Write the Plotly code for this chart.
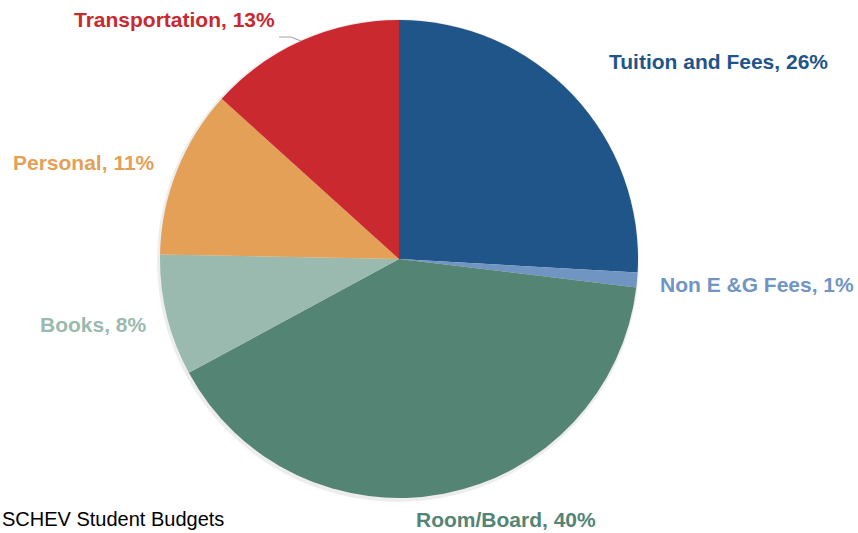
import plotly.graph_objects as go

# Data
categories = ["Tuition and Fees", "Non E &G Fees", "Room/Board", "Books", "Personal", "Transportation"]
shares = [25.9, 1.0, 40.2, 8.2, 11.4, 13.3]
colors = ["#1F5589", "#7195C3", "#548474", "#9BBAAF", "#E4A056", "#C9292F"]
source_note = "SCHEV Student Budgets"

W, H = 858, 533
# label anchor positions in pixels (x center, y center)
label_pos = [(718, 62), (757, 284), (506, 519), (93, 324), (84, 163), (174, 19)]

total = sum(shares)
pcts = [round(v / total * 100) for v in shares]

fig = go.Figure()
fig.add_trace(go.Pie(
    labels=categories,
    values=shares,
    marker=dict(colors=colors, line=dict(width=0)),
    sort=False,
    direction="clockwise",
    rotation=0,
    textinfo="none",
    hoverinfo="label+percent",
    showlegend=False,
    domain=dict(x=[160 / W, 638 / W], y=[1 - 498 / H, 1 - 20 / H]),
))

font_family = "Liberation Sans, Arial, sans-serif"
annotations = []
for cat, p, c, (px, py) in zip(categories, pcts, colors, label_pos):
    annotations.append(dict(
        x=px / W, y=1 - py / H, xref="paper", yref="paper",
        text=f"<b>{cat}, {p}%</b>", showarrow=False,
        xanchor="center", yanchor="middle",
        font=dict(family=font_family, size=21, color=c),
    ))
annotations.append(dict(
    x=0, y=1 - 519 / H, xref="paper", yref="paper",
    text=source_note, showarrow=False, xanchor="left", yanchor="middle",
    font=dict(family=font_family, size=20, color="#000000"),
))

shapes = [
    # soft shadow behind the pie
    dict(type="circle", xref="paper", yref="paper",
         x0=(160 - 3) / W, x1=(638 + 1) / W, y0=1 - (498 + 4) / H, y1=1 - (20 - 1) / H,
         fillcolor="rgba(0,0,0,0.07)", line=dict(width=0), layer="below"),
    # leader line for Transportation
    dict(type="path", xref="paper", yref="paper",
         path=f"M {279 / W},{1 - 37 / H} L {291 / W},{1 - 37 / H} L {301 / W},{1 - 41 / H}",
         line=dict(color="#A6A6A6", width=1.2)),
]

fig.update_layout(
    width=W, height=H,
    margin=dict(l=0, r=0, t=0, b=0),
    paper_bgcolor="white", plot_bgcolor="white",
    annotations=annotations,
    shapes=shapes,
)

fig.write_html(
    "out.html",
    config={"displayModeBar": False},
    post_script="document.body.style.margin='0';document.body.style.overflow='hidden';",
)
